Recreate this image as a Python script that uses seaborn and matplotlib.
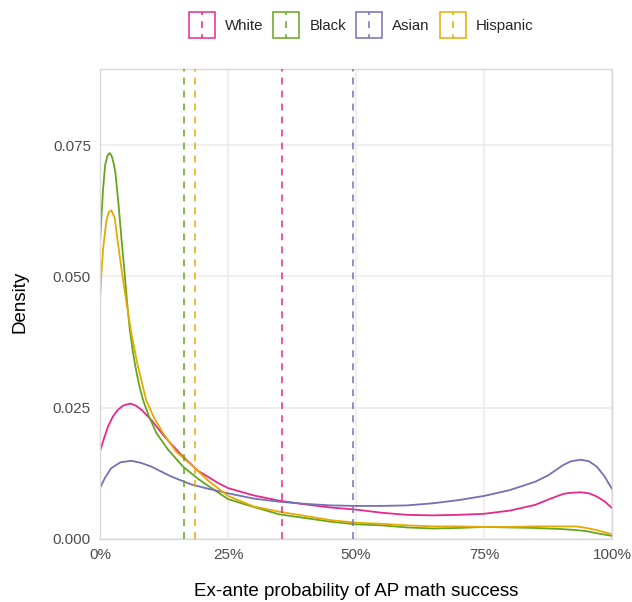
import numpy as np
import pandas as pd
import seaborn as sns
import matplotlib
matplotlib.use("Agg")
import matplotlib.pyplot as plt
from matplotlib.legend_handler import HandlerBase
from matplotlib.patches import Rectangle
from matplotlib.lines import Line2D

# ---- data ----
groups = ["White", "Black", "Asian", "Hispanic"]
colors = ["#E7298A", "#66A61E", "#7570B3", "#E6AB02"]

x_white = [0, 0.008, 0.0156, 0.025, 0.035, 0.045, 0.059, 0.070, 0.081, 0.100,
           0.126, 0.159, 0.191, 0.21, 0.23, 0.25, 0.30, 0.35, 0.40, 0.45,
           0.50, 0.55, 0.60, 0.65, 0.70, 0.75, 0.80, 0.85, 0.875, 0.905,
           0.92, 0.939, 0.955, 0.97, 0.985, 1.0]
dens_white = [0.0167, 0.0192, 0.0214, 0.0233, 0.0246, 0.0254, 0.0258, 0.0254, 0.0246, 0.0227,
              0.0195, 0.0160, 0.0130, 0.0119, 0.0107, 0.0097, 0.0083, 0.0073, 0.0066, 0.0060,
              0.0056, 0.0050, 0.0046, 0.0045, 0.0046, 0.0048, 0.0054, 0.0065, 0.0075, 0.0086,
              0.0088, 0.0089, 0.0087, 0.0081, 0.0072, 0.0059]

x_black = [0, 0.003, 0.006, 0.010, 0.015, 0.019, 0.023, 0.027, 0.030,
           0.0365, 0.042, 0.048, 0.0525, 0.058, 0.064, 0.069, 0.076, 0.084, 0.095,
           0.110, 0.133, 0.162, 0.191, 0.21,
           0.25, 0.30, 0.35, 0.40, 0.45, 0.50, 0.55, 0.60, 0.65, 0.70, 0.75, 0.80,
           0.85, 0.90, 0.93, 0.95, 0.97, 1.0]
dens_black = [0.0562, 0.0618, 0.0666, 0.0712, 0.0731, 0.0735, 0.0729, 0.0714, 0.0698,
              0.0634, 0.0571, 0.0507, 0.0455, 0.0400, 0.0358, 0.0329, 0.0295, 0.0265, 0.0235,
              0.0202, 0.0170, 0.0138, 0.0115, 0.0102,
              0.0076, 0.0061, 0.0047, 0.0040, 0.0033, 0.0028, 0.0026, 0.0022, 0.0020, 0.0021,
              0.0023, 0.0022, 0.0021, 0.0019, 0.0017, 0.0015, 0.0011, 0.0006]

x_asian = [0, 0.01, 0.022, 0.04, 0.061, 0.08, 0.100, 0.139, 0.178, 0.21,
           0.25, 0.30, 0.35, 0.40, 0.45, 0.50, 0.55, 0.60, 0.65, 0.70,
           0.75, 0.80, 0.85, 0.875, 0.905, 0.92, 0.939, 0.955, 0.97, 0.985, 1.0]
dens_asian = [0.0097, 0.0117, 0.0135, 0.0146, 0.0149, 0.0145, 0.0138, 0.0119, 0.0104, 0.0096,
              0.0087, 0.0077, 0.0071, 0.0067, 0.0064, 0.0063, 0.0063, 0.0064, 0.0068, 0.0074,
              0.0082, 0.0093, 0.0109, 0.0121, 0.0141, 0.0148, 0.0151, 0.0148, 0.0138, 0.0120,
              0.0095]

x_hispanic = [0, 0.003, 0.006, 0.0124, 0.017, 0.022, 0.0286, 0.034, 0.043, 0.052,
              0.061, 0.074, 0.090, 0.105, 0.123, 0.149, 0.182, 0.21,
              0.25, 0.30, 0.35, 0.40, 0.45, 0.50, 0.55, 0.60, 0.65, 0.70,
              0.75, 0.80, 0.85, 0.90, 0.93, 0.95, 0.97, 1.0]
dens_hispanic = [0.0456, 0.0508, 0.0552, 0.0606, 0.0622, 0.0626, 0.0612, 0.0571, 0.0507, 0.0448,
                 0.0393, 0.0329, 0.0265, 0.0232, 0.0202, 0.0166, 0.0138, 0.0112,
                 0.0082, 0.0062, 0.0052, 0.0044, 0.0036, 0.0031, 0.0029, 0.0026, 0.0024, 0.0024,
                 0.0023, 0.0023, 0.0024, 0.0024, 0.0024, 0.0021, 0.0017, 0.0009]

group_means = [0.355, 0.164, 0.494, 0.186]

x_ticks = [0, 0.25, 0.5, 0.75, 1.0]
x_ticklabels = ["0%", "25%", "50%", "75%", "100%"]
y_ticks = [0.0, 0.025, 0.05, 0.075]
y_ticklabels = ["0.000", "0.025", "0.050", "0.075"]

# ---- build long table ----
xs = [x_white, x_black, x_asian, x_hispanic]
ds = [dens_white, dens_black, dens_asian, dens_hispanic]
df = pd.concat([pd.DataFrame({"x": x, "density": d, "group": g}) for g, x, d in zip(groups, xs, ds)],
               ignore_index=True)
palette = dict(zip(groups, colors))

sns.set_theme(style="white")
plt.rcParams["font.family"] = ["Liberation Sans", "DejaVu Sans"]

fig = plt.figure(figsize=(6.32, 6.02), dpi=100)
ax = fig.add_axes([100 / 632, 63 / 602, 512 / 632, 470 / 602])

sns.lineplot(data=df, x="x", y="density", hue="group", hue_order=groups, palette=palette,
             linewidth=1.3, ax=ax, legend=False, sort=True)

dash = (0, (4.5, 4))
for g, m in zip(groups, group_means):
    ax.axvline(m, color=palette[g], linestyle=dash, linewidth=1.1, zorder=3)

ax.set_xlim(0, 1)
ax.set_ylim(0, 0.0895)
ax.set_xticks(x_ticks)
ax.set_xticklabels(x_ticklabels)
ax.set_yticks(y_ticks)
ax.set_yticklabels(y_ticklabels)
ax.grid(True, color="#EBEBEB", linewidth=1.1)
ax.set_axisbelow(True)
ax.tick_params(axis="both", length=0, labelsize=11, labelcolor="#4D4D4D", pad=6.5)
for s in ax.spines.values():
    s.set_color("#D9D9D9")
    s.set_linewidth(1.0)
ax.set_xlabel("Ex-ante probability of AP math success", fontsize=13.5, color="black")
ax.set_ylabel("Density", fontsize=13.5, color="black")
ax.xaxis.label.set_va("center")
ax.yaxis.label.set_va("center")
ax.xaxis.set_label_coords(0.5, (539 - 592) / 470)
ax.yaxis.set_label_coords((20 - 100) / 512, (539 - 302) / 470)


class DensKey(HandlerBase):
    def create_artists(self, legend, orig_handle, xdescent, ydescent, width, height, fontsize, trans):
        c = orig_handle.get_color()
        rect = Rectangle((-xdescent, -ydescent), width, height, facecolor="none",
                         edgecolor=c, linewidth=1.1, transform=trans)
        ln = Line2D([-xdescent + width / 2] * 2, [-ydescent, -ydescent + height], color=c,
                    linewidth=1.1, linestyle=(2, (4.5, 4)), transform=trans)
        return [rect, ln]


handles = [Line2D([], [], color=palette[g]) for g in groups]
fig.legend(handles, groups, handler_map={Line2D: DensKey()}, loc="center",
           bbox_to_anchor=(361 / 632, 1 - 25 / 602), ncol=4, frameon=False, fontsize=10.8,
           handlelength=1.73, handleheight=2.19, handletextpad=0.67, columnspacing=0.67,
           borderpad=0)

fig.savefig("out.png", dpi=100)
